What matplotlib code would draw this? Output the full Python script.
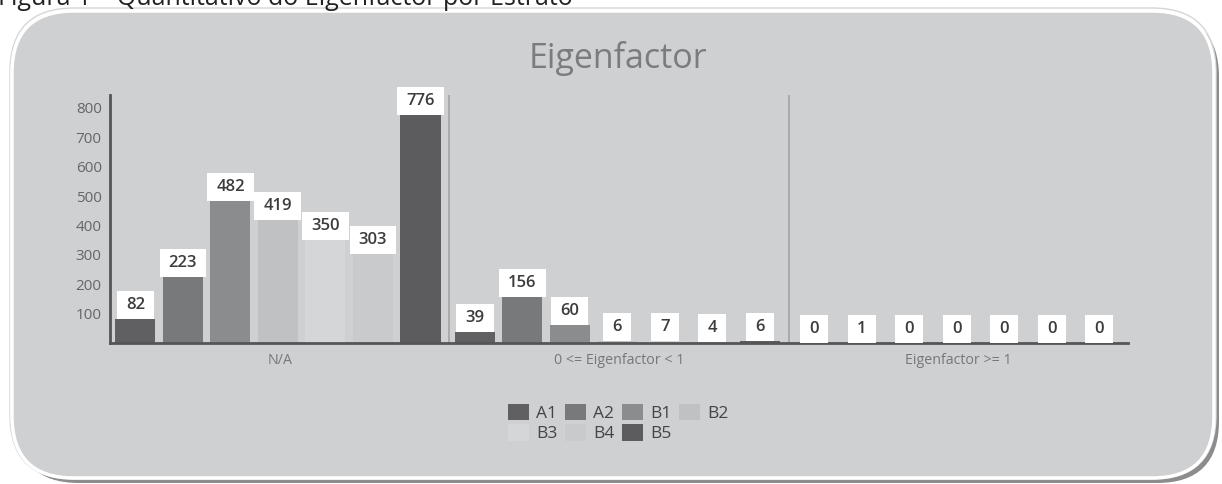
import matplotlib.pyplot as plt
import numpy as np
from matplotlib.patches import FancyBboxPatch
from matplotlib.path import Path
from matplotlib.transforms import IdentityTransform

plt.rcParams['font.family'] = ['Open Sans', 'DejaVu Sans']

# Eigenfactor ranges on the x axis, one bar per Qualis stratum in each
groups = ['N/A', '0 <= Eigenfactor < 1', 'Eigenfactor >= 1']
strata = ['A1', 'A2', 'B1', 'B2', 'B3', 'B4', 'B5']
a1 = [82, 39, 0]
a2 = [223, 156, 1]
b1 = [482, 60, 0]
b2 = [419, 6, 0]
b3 = [350, 7, 0]
b4 = [303, 4, 0]
b5 = [776, 6, 0]
yticks = [100, 200, 300, 400, 500, 600, 700, 800]

series = [a1, a2, b1, b2, b3, b4, b5]
colors = ['#606062', '#78797b', '#8b8c8e', '#c0c1c3', '#d5d6d8', '#c9cacc', '#5c5c5e']
panel_color = '#cfd0d2'
label_size = 12


def label_box(x0, y0, width, height, mutation_size):
    """White box round a value label, wider than it is tall."""
    px, py = 0.55 * mutation_size, 0.36 * mutation_size
    x0, y0 = x0 - px, y0 - py
    x1, y1 = x0 + width + 2 * px, y0 + height + 2 * py
    verts = [(x0, y0), (x1, y0), (x1, y1), (x0, y1), (x0, y0)]
    codes = [Path.MOVETO, Path.LINETO, Path.LINETO, Path.LINETO, Path.CLOSEPOLY]
    return Path(verts, codes)


fig = plt.figure(figsize=(12.22, 4.84), dpi=100, facecolor='white')

# rounded panel behind the chart, drawn in pixels
px = IdentityTransform()
shadow = FancyBboxPatch((17, 1), 1202, 468, boxstyle='round,pad=0,rounding_size=62',
                        transform=px, fc='#8c8c8e', ec='none', zorder=-6)
outline = FancyBboxPatch((10, 5), 1206, 471, boxstyle='round,pad=0,rounding_size=64',
                         transform=px, fc='none', ec='#d6d6d6', lw=1.0, zorder=-5)
panel = FancyBboxPatch((12, 6), 1202, 467, boxstyle='round,pad=0,rounding_size=62',
                       transform=px, fc=panel_color, ec='white', lw=2.5, zorder=-4)
for p in (shadow, outline, panel):
    fig.add_artist(p)

ax = fig.add_axes([110 / 1222, 141 / 484, 1018 / 1222, 248 / 484])
ax.set_facecolor('none')

x = np.arange(len(groups))
width = 0.118
step = 0.14
handles = []
for i, (name, vals, col) in enumerate(zip(strata, series, colors)):
    xs = x + (i - 3) * step - 0.005
    bars = ax.bar(xs, vals, width=width, color=col, zorder=2, label=name)
    handles.append(bars)
    for xc, v in zip(xs, vals):
        ax.annotate(str(v), (xc, v), xytext=(0, 0.36 * label_size), textcoords='offset points',
                    ha='center', va='bottom', fontsize=label_size, fontweight='semibold',
                    color='#3c3c3e', zorder=4,
                    bbox=dict(boxstyle=label_box, fc='white', ec='none'))

for sep in (0.5, 1.5):
    ax.axvline(sep, color='#a2a3a5', lw=1.2, zorder=1)

ax.set_xlim(-0.5, 2.5)
ax.set_ylim(0, 844)
ax.set_yticks(yticks)
ax.set_xticks(x)
ax.set_xticklabels(groups)
ax.tick_params(axis='y', length=0, labelsize=11, labelcolor='#666666', pad=6)
ax.tick_params(axis='x', length=0, labelsize=10.3, labelcolor='#777777', pad=7)
for side in ('top', 'right'):
    ax.spines[side].set_visible(False)
for side in ('left', 'bottom'):
    ax.spines[side].set_color('#555557')
    ax.spines[side].set_linewidth(2)

# legend rows read A1 A2 B1 B2 / B3 B4 B5
order = [0, 4, 1, 5, 2, 6, 3]
leg = ax.legend([handles[k] for k in order], [strata[k] for k in order],
                loc='upper center', bbox_to_anchor=(0.506, 1 - 388 / 484),
                bbox_transform=fig.transFigure, ncol=4, frameon=False,
                fontsize=12.5, handlelength=1.2, handleheight=1.1,
                handletextpad=0.4, columnspacing=0.45, labelspacing=0.12)
for t in leg.get_texts():
    t.set_color('#444446')

fig.text(0.506, 1 - 59 / 484, 'Eigenfactor', ha='center', va='center',
         fontsize=24.5, color='#7b7c7e')
fig.text(-0.002, 1 - 5 / 484, 'Figura 1 – Quantitativo do Eigenfactor por Estrato',
         ha='left', va='baseline', fontsize=18, color='#222222')

fig.savefig('out.png', dpi=100)
